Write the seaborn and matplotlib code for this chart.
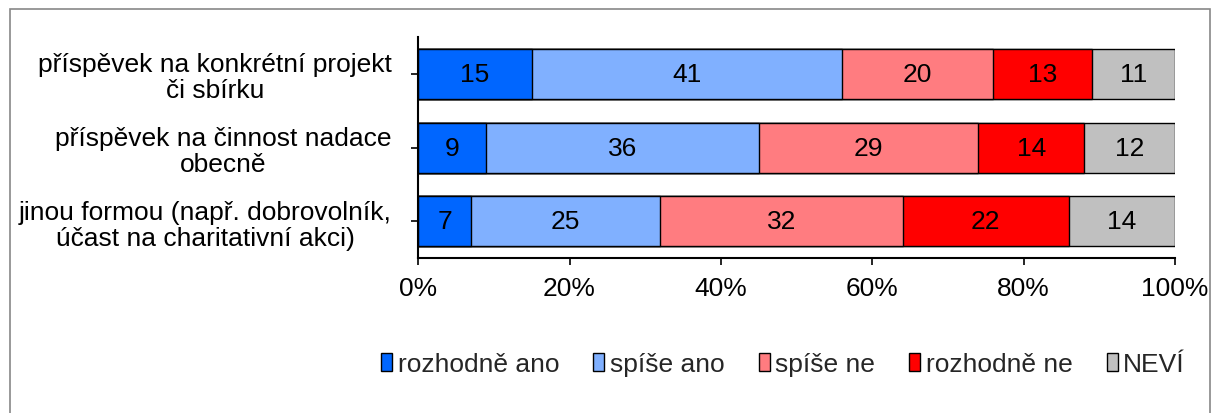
import numpy as np
import pandas as pd
import seaborn as sns
import matplotlib.pyplot as plt
from matplotlib.patches import Patch, Rectangle

categories = ['příspěvek na konkrétní projekt\nči sbírku',
              'příspěvek na činnost nadace\nobecně',
              'jinou formou (např. dobrovolník,\núčast na charitativní akci)']
series = ['rozhodně ano', 'spíše ano', 'spíše ne', 'rozhodně ne', 'NEVÍ']
rozhodne_ano = [15, 9, 7]
spise_ano = [41, 36, 25]
spise_ne = [20, 29, 32]
rozhodne_ne = [13, 14, 22]
nevi = [11, 12, 14]
colors = ['#0066FF', '#80B0FF', '#FF7C80', '#FF0000', '#C0C0C0']

values = np.array([rozhodne_ano, spise_ano, spise_ne, rozhodne_ne, nevi])
cum = values.cumsum(axis=0)

sns.set_style('white')
plt.rcParams['font.family'] = ['Liberation Sans', 'DejaVu Sans']

fig = plt.figure(figsize=(12.12, 4.14), dpi=100)
ax = fig.add_axes([0.345, 0.374, 0.6245, 0.534])

# stacked bars: draw cumulative totals from the largest down
for i in range(len(series) - 1, -1, -1):
    df = pd.DataFrame({'kat': categories, 'val': cum[i]})
    sns.barplot(data=df, x='val', y='kat', color=colors[i], width=0.68,
                edgecolor='black', linewidth=1, saturation=1, ax=ax)

for i in range(len(series)):
    for j in range(len(categories)):
        ax.text(cum[i][j] - values[i][j] / 2, j, str(values[i][j]),
                ha='center', va='center', fontsize=19, color='black')

ax.set_xlim(0, 100)
ax.set_ylim(2.5, -0.5)
ax.set_xticks(range(0, 101, 20))
ax.set_xticklabels([f'{t}%' for t in range(0, 101, 20)])
ax.set_xlabel('')
ax.set_ylabel('')
for s in ['top', 'right']:
    ax.spines[s].set_visible(False)
for s in ['left', 'bottom']:
    ax.spines[s].set_color('black')
    ax.spines[s].set_linewidth(1.5)
ax.tick_params(axis='both', which='both', direction='out', length=5, width=1.2,
               color='black', labelcolor='black', labelsize=19,
               left=True, bottom=True)
ax.tick_params(axis='y', pad=14)
ax.tick_params(axis='x', pad=8)
for lab in ax.get_yticklabels():
    lab.set_multialignment('center')
    lab.set_linespacing(1.1)

handles = [Patch(facecolor=c, edgecolor='black', linewidth=1) for c in colors]
fig.legend(handles, series, loc='center', bbox_to_anchor=(0.646, 0.118), ncol=5,
           frameon=False, fontsize=19, handlelength=0.42, handleheight=0.7,
           handletextpad=0.2, columnspacing=1.3)

fig.patches.append(Rectangle((10 / 1212, -0.01), 1200 / 1212, 1 - 10 / 414 + 0.01,
                             transform=fig.transFigure, fill=False,
                             edgecolor='#888888', linewidth=1.2))

fig.savefig('out.png', dpi=100)
